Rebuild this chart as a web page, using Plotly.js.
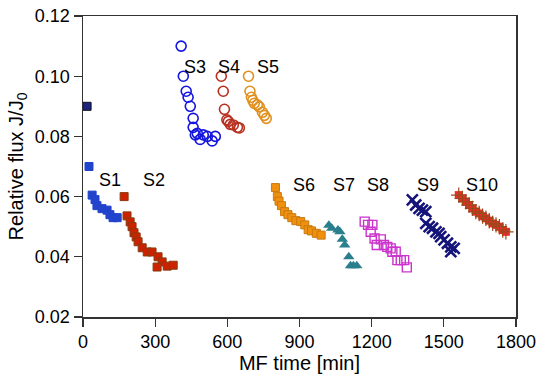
<!DOCTYPE html>
<html>
<head>
<meta charset="utf-8">
<script src="https://cdn.plot.ly/plotly-3.0.1.min.js"></script>
<style>html,body{margin:0;padding:0;background:#fff;}#chart{width:550px;height:385px;}</style>
</head>
<body>
<div id="chart"></div>
<script>
// ---- data (MF time [min], relative flux J/J0) ----
const s1x = [17, 25, 38, 50, 58, 79, 100, 112, 125, 142];
const s1y = [0.090, 0.070, 0.0605, 0.059, 0.057, 0.056, 0.0555, 0.054, 0.053, 0.053];
const s2x = [171, 183, 196, 204, 212, 221, 229, 246, 267, 287, 312, 329, 308, 350, 375];
const s2y = [0.060, 0.0536, 0.0516, 0.050, 0.048, 0.0466, 0.045, 0.043, 0.0416, 0.0416, 0.040, 0.0383, 0.0366, 0.0369, 0.0372];
const s3x = [408, 417, 429, 437, 446, 458, 458, 467, 475, 487, 500, 517, 537, 550];
const s3y = [0.110, 0.100, 0.095, 0.093, 0.090, 0.086, 0.083, 0.0805, 0.081, 0.079, 0.0805, 0.080, 0.0785, 0.080];
const s4x = [575, 583, 588, 598, 604, 612, 625, 642, 650];
const s4y = [0.100, 0.095, 0.089, 0.0855, 0.085, 0.084, 0.0838, 0.083, 0.0828];
const s5x = [688, 694, 700, 706, 712, 725, 733, 746, 754, 762];
const s5y = [0.100, 0.095, 0.093, 0.092, 0.091, 0.0905, 0.0898, 0.088, 0.087, 0.086];
const s6x = [800, 808, 815, 825, 838, 852, 868, 885, 905, 922, 936, 950, 970, 990];
const s6y = [0.063, 0.060, 0.0585, 0.057, 0.055, 0.054, 0.053, 0.052, 0.0517, 0.0506, 0.049, 0.0486, 0.0478, 0.0472];
const s7x = [1022, 1034, 1060, 1068, 1078, 1088, 1105, 1112, 1124, 1138];
const s7y = [0.0505, 0.0495, 0.0489, 0.0483, 0.0458, 0.0439, 0.040, 0.037, 0.037, 0.037];
const s8x = [1171, 1185, 1203, 1196, 1212, 1221, 1238, 1251, 1265, 1279, 1286, 1300, 1307, 1321, 1335, 1346];
const s8y = [0.0517, 0.0506, 0.0506, 0.0483, 0.0461, 0.0439, 0.0458, 0.0439, 0.0433, 0.0428, 0.0417, 0.0417, 0.0389, 0.0389, 0.0389, 0.0365];
const s9x = [1369, 1383, 1397, 1411, 1425, 1425, 1439, 1453, 1467, 1480, 1487, 1501, 1515, 1529, 1529, 1543];
const s9y = [0.0589, 0.0572, 0.0561, 0.0555, 0.055, 0.0511, 0.050, 0.0495, 0.0483, 0.0478, 0.0467, 0.0456, 0.0445, 0.0433, 0.0417, 0.0428];
const s10x = [1562, 1577, 1592, 1605, 1619, 1633, 1647, 1661, 1675, 1689, 1703, 1717, 1731, 1745, 1758];
const s10y = [0.0605, 0.0594, 0.0583, 0.0572, 0.0561, 0.055, 0.0544, 0.0535, 0.0528, 0.052, 0.0511, 0.0506, 0.050, 0.0489, 0.0483];

const seriesNames = ['S1','S2','S3','S4','S5','S6','S7','S8','S9','S10'];
// label anchor points (data coordinates)
const labelX = [112, 296, 467, 608, 771, 917, 1083, 1225, 1433, 1660];
const labelY = [0.0655, 0.0655, 0.1031, 0.1031, 0.1031, 0.0639, 0.0639, 0.0639, 0.0639, 0.0639];

const xTitle = 'MF time [min]';
const yTitle = 'Relative flux J/J<sub>0</sub>';

const FONT = 'Liberation Sans, Arial, sans-serif';

function sc(x, y, name, marker) {
  return {x: x, y: y, name: name, type: 'scatter', mode: 'markers', marker: marker, hoverinfo: 'x+y'};
}

const s1Colors = s1x.map((_, i) => i === 0 ? '#1c2480' : '#2244cc');
const s1Lines = s1x.map((_, i) => i === 0 ? '#111' : '#2244cc');

const traces = [
  sc(s1x, s1y, 'S1', {symbol: 'square', size: 8, color: s1Colors, line: {width: 1, color: s1Lines}}),
  sc(s2x, s2y, 'S2', {symbol: 'square', size: 8, color: '#cc2200', line: {width: 1, color: '#8a3a10'}}),
  sc(s3x, s3y, 'S3', {symbol: 'circle-open', size: 10, color: '#1515e0', line: {width: 1.6}}),
  sc(s4x, s4y, 'S4', {symbol: 'circle-open', size: 10, color: '#b83020', line: {width: 1.6}}),
  sc(s5x, s5y, 'S5', {symbol: 'circle-open', size: 10, color: '#e0901e', line: {width: 1.6}}),
  sc(s6x, s6y, 'S6', {symbol: 'square', size: 8, color: '#f0900e', line: {width: 1, color: '#c87a10'}}),
  sc(s7x, s7y, 'S7', {symbol: 'triangle-up', size: 10, color: '#2a7f8c', line: {width: 0}}),
  sc(s8x, s8y, 'S8', {symbol: 'square-open', size: 9, color: '#cc33cc', line: {width: 1.4}}),
  sc(s9x, s9y, 'S9', {symbol: 'x-thin-open', size: 11, color: '#14147a', line: {width: 2.6, color: '#14147a'}}),
  sc(s10x, s10y, 'S10', {symbol: 'square', size: 8, color: '#ee2a2a', line: {width: 0}}),
  sc(s10x, s10y, 'S10', {symbol: 'cross-thin-open', size: 11, color: '#9a4a1a', line: {width: 1.2, color: '#9a4a1a'}})
];

const annotations = seriesNames.map((n, i) => ({
  x: labelX[i], y: labelY[i], xref: 'x', yref: 'y', text: n, showarrow: false,
  font: {family: FONT, size: 18, color: '#000'}
}));

const axisCommon = {
  showgrid: false, zeroline: false, showline: true, mirror: true,
  linecolor: '#333', linewidth: 1.5,
  ticks: 'outside', ticklen: 8, tickwidth: 1.2, tickcolor: '#333',
  tickfont: {family: FONT, size: 18, color: '#000'}
};

const layout = {
  width: 550, height: 385,
  margin: {l: 83, r: 34, t: 16, b: 68},
  paper_bgcolor: '#fff', plot_bgcolor: '#fff',
  showlegend: false,
  xaxis: Object.assign({}, axisCommon, {
    range: [0, 1800], tickvals: [0, 300, 600, 900, 1200, 1500, 1800],
    title: {text: xTitle, font: {family: FONT, size: 20, color: '#000'}, standoff: 5}
  }),
  yaxis: Object.assign({}, axisCommon, {
    range: [0.02, 0.12], tickvals: [0.02, 0.04, 0.06, 0.08, 0.10, 0.12], tickformat: '.2f',
    title: {text: yTitle, font: {family: FONT, size: 20, color: '#000'}, standoff: 6}
  }),
  annotations: annotations
};

Plotly.newPlot('chart', traces, layout, {displayModeBar: false, staticPlot: true});
</script>
</body>
</html>
